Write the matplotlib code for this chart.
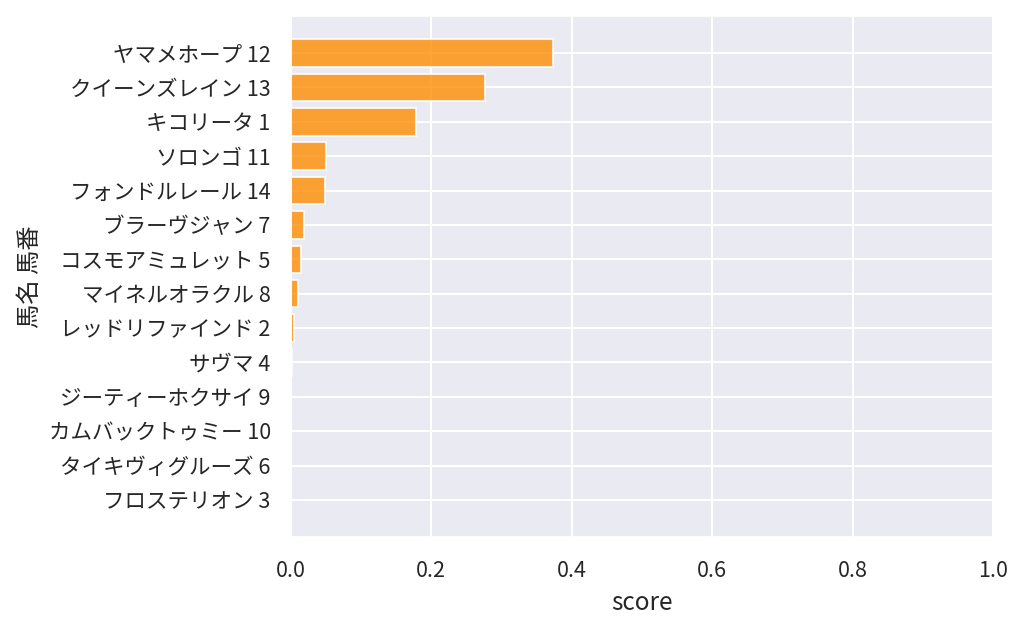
import matplotlib
matplotlib.use("Agg")
import matplotlib.pyplot as plt
import numpy as np
import seaborn as sns

sns.set_theme(style="darkgrid")
plt.rcParams['font.family'] = ['Noto Sans CJK JP', 'DejaVu Sans']
plt.rcParams['grid.linewidth'] = 1.5

names = ['ヤマメホープ 12', 'クイーンズレイン 13', 'キコリータ 1', 'ソロンゴ 11',
         'フォンドルレール 14', 'ブラーヴジャン 7', 'コスモアミュレット 5',
         'マイネルオラクル 8', 'レッドリファインド 2', 'サヴマ 4',
         'ジーティーホクサイ 9', 'カムバックトゥミー 10', 'タイキヴィグルーズ 6',
         'フロステリオン 3']
scores = [0.373, 0.277, 0.178, 0.0494, 0.0484, 0.019, 0.0138, 0.0105,
          0.0048, 0.002, 0.0005, 0.0003, 0.0002, 0.0001]

fig, ax = plt.subplots(figsize=(10.24, 6.27), dpi=100)
y = np.arange(len(names))
ax.barh(y, scores, color='darkorange', alpha=0.8, edgecolor='white', linewidth=1.5)
ax.set_yticks(y)
ax.set_yticklabels(names)
ax.invert_yaxis()
ax.set_xlim(0, 1.0)
ax.tick_params(axis='y', labelsize=15.5, pad=8.5)
ax.tick_params(axis='x', labelsize=15.5, pad=10)
ax.set_xlabel('score', fontsize=17.5, labelpad=6)
ax.set_ylabel('馬名 馬番', fontsize=17.5, labelpad=4)

fig.subplots_adjust(left=0.284, right=0.97, top=0.975, bottom=0.143)
fig.savefig('out.png', dpi=100)
